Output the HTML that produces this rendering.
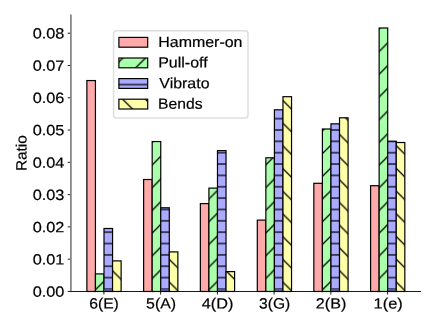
<!DOCTYPE html>
<html><head><meta charset="utf-8"><style>
html,body{margin:0;padding:0;background:#fff;}
svg{display:block;will-change:transform}
text{text-rendering:geometricPrecision;font-family:"Liberation Sans",sans-serif;fill:#000;stroke:#000;stroke-width:0.2px}
</style></head><body>
<svg width="436" height="327" viewBox="0 0 436 327">
<defs>
<pattern id="hp" patternUnits="userSpaceOnUse" width="22.708" height="22.708" x="-0.800" y="0">
<rect width="22.708" height="22.708" fill="#aaffaa"/>
<path d="M-2,2 L2,-2 M-2.000,24.708 L24.708,-2.000 M20.708,24.708 L24.708,20.708" stroke="#000" stroke-width="1.25" fill="none"/>
</pattern>
<pattern id="hv" patternUnits="userSpaceOnUse" width="11.354" height="11.354" x="0" y="-0.577">
<rect width="11.354" height="11.354" fill="#aaaaff"/>
<path d="M-1,5.677 L12.354,5.677" stroke="#000" stroke-width="1.25" fill="none"/>
</pattern>
<pattern id="hb" patternUnits="userSpaceOnUse" width="22.708" height="22.708" x="0" y="-0.758">
<rect width="22.708" height="22.708" fill="#ffffaa"/>
<path d="M-2,-2 L24.708,24.708 M20.708,-2 L24.708,2 M-2,20.708 L2,24.708" stroke="#000" stroke-width="1.25" fill="none"/>
</pattern>
</defs>
<rect width="436" height="327" fill="#fff"/>

<path d="M70.9,14.6 L70.9,291.65" stroke="#808080" stroke-width="1.7" fill="none"/>
<path d="M70.05000000000001,291.47 L421,291.47" stroke="#1a1a1a" stroke-width="1.05" fill="none"/>
<rect x="86.88" y="80.56" width="8.56" height="210.91" fill="#ffaaaa" stroke="#000" stroke-width="1.2"/>
<rect x="95.44" y="273.90" width="8.56" height="17.57" fill="url(#hp)" stroke="#000" stroke-width="1.2"/>
<rect x="104.00" y="228.49" width="8.56" height="62.98" fill="url(#hv)" stroke="#000" stroke-width="1.2"/>
<rect x="104.50" y="288.3" width="7.56" height="2.7" fill="#55558e"/>
<rect x="112.56" y="260.90" width="8.56" height="30.57" fill="url(#hb)" stroke="#000" stroke-width="1.2"/>
<rect x="143.62" y="179.50" width="8.56" height="111.97" fill="#ffaaaa" stroke="#000" stroke-width="1.2"/>
<rect x="152.18" y="141.55" width="8.56" height="149.92" fill="url(#hp)" stroke="#000" stroke-width="1.2"/>
<rect x="160.74" y="207.79" width="8.56" height="83.68" fill="url(#hv)" stroke="#000" stroke-width="1.2"/>
<rect x="161.24" y="288.3" width="7.56" height="2.7" fill="#55558e"/>
<rect x="169.30" y="251.91" width="8.56" height="39.57" fill="url(#hb)" stroke="#000" stroke-width="1.2"/>
<rect x="200.36" y="203.59" width="8.56" height="87.88" fill="#ffaaaa" stroke="#000" stroke-width="1.2"/>
<rect x="208.92" y="188.11" width="8.56" height="103.36" fill="url(#hp)" stroke="#000" stroke-width="1.2"/>
<rect x="217.48" y="150.61" width="8.56" height="140.86" fill="url(#hv)" stroke="#000" stroke-width="1.2"/>
<rect x="217.98" y="288.3" width="7.56" height="2.7" fill="#55558e"/>
<rect x="226.04" y="271.61" width="8.56" height="19.86" fill="url(#hb)" stroke="#000" stroke-width="1.2"/>
<rect x="257.30" y="220.11" width="8.56" height="71.36" fill="#ffaaaa" stroke="#000" stroke-width="1.2"/>
<rect x="265.86" y="157.80" width="8.56" height="133.67" fill="url(#hp)" stroke="#000" stroke-width="1.2"/>
<rect x="274.42" y="109.81" width="8.56" height="181.66" fill="url(#hv)" stroke="#000" stroke-width="1.2"/>
<rect x="274.92" y="288.3" width="7.56" height="2.7" fill="#55558e"/>
<rect x="282.98" y="96.69" width="8.56" height="194.78" fill="url(#hb)" stroke="#000" stroke-width="1.2"/>
<rect x="313.84" y="183.31" width="8.56" height="108.16" fill="#ffaaaa" stroke="#000" stroke-width="1.2"/>
<rect x="322.40" y="129.00" width="8.56" height="162.47" fill="url(#hp)" stroke="#000" stroke-width="1.2"/>
<rect x="330.96" y="123.84" width="8.56" height="167.63" fill="url(#hv)" stroke="#000" stroke-width="1.2"/>
<rect x="331.46" y="288.3" width="7.56" height="2.7" fill="#55558e"/>
<rect x="339.52" y="117.81" width="8.56" height="173.66" fill="url(#hb)" stroke="#000" stroke-width="1.2"/>
<rect x="370.58" y="185.70" width="8.56" height="105.77" fill="#ffaaaa" stroke="#000" stroke-width="1.2"/>
<rect x="379.14" y="27.99" width="8.56" height="263.48" fill="url(#hp)" stroke="#000" stroke-width="1.2"/>
<rect x="387.70" y="141.19" width="8.56" height="150.28" fill="url(#hv)" stroke="#000" stroke-width="1.2"/>
<rect x="388.20" y="288.3" width="7.56" height="2.7" fill="#55558e"/>
<rect x="396.26" y="142.51" width="8.56" height="148.96" fill="url(#hb)" stroke="#000" stroke-width="1.2"/>
<path d="M67.7,291.45 L70.10000000000001,291.45" stroke="#111" stroke-width="0.95"/>
<text x="32.75" y="296.75" transform="rotate(0.03 32.75 296.75)" font-size="14.9" textLength="31.66" lengthAdjust="spacingAndGlyphs">0.00</text>
<path d="M67.7,259.17 L70.10000000000001,259.17" stroke="#111" stroke-width="0.95"/>
<text x="32.75" y="264.47" transform="rotate(0.03 32.75 264.47)" font-size="14.9" textLength="31.66" lengthAdjust="spacingAndGlyphs">0.01</text>
<path d="M67.7,226.89 L70.10000000000001,226.89" stroke="#111" stroke-width="0.95"/>
<text x="32.75" y="232.19" transform="rotate(0.03 32.75 232.19)" font-size="14.9" textLength="31.66" lengthAdjust="spacingAndGlyphs">0.02</text>
<path d="M67.7,194.61 L70.10000000000001,194.61" stroke="#111" stroke-width="0.95"/>
<text x="32.75" y="199.91" transform="rotate(0.03 32.75 199.91)" font-size="14.9" textLength="31.66" lengthAdjust="spacingAndGlyphs">0.03</text>
<path d="M67.7,162.33 L70.10000000000001,162.33" stroke="#111" stroke-width="0.95"/>
<text x="32.75" y="167.63" transform="rotate(0.03 32.75 167.63)" font-size="14.9" textLength="31.66" lengthAdjust="spacingAndGlyphs">0.04</text>
<path d="M67.7,130.05 L70.10000000000001,130.05" stroke="#111" stroke-width="0.95"/>
<text x="32.75" y="135.35" transform="rotate(0.03 32.75 135.35)" font-size="14.9" textLength="31.66" lengthAdjust="spacingAndGlyphs">0.05</text>
<path d="M67.7,97.77 L70.10000000000001,97.77" stroke="#111" stroke-width="0.95"/>
<text x="32.75" y="103.07" transform="rotate(0.03 32.75 103.07)" font-size="14.9" textLength="31.66" lengthAdjust="spacingAndGlyphs">0.06</text>
<path d="M67.7,65.49 L70.10000000000001,65.49" stroke="#111" stroke-width="0.95"/>
<text x="32.75" y="70.79" transform="rotate(0.03 32.75 70.79)" font-size="14.9" textLength="31.66" lengthAdjust="spacingAndGlyphs">0.07</text>
<path d="M67.7,33.21 L70.10000000000001,33.21" stroke="#111" stroke-width="0.95"/>
<text x="32.75" y="38.51" transform="rotate(0.03 32.75 38.51)" font-size="14.9" textLength="31.66" lengthAdjust="spacingAndGlyphs">0.08</text>
<path d="M103.90,291.25 L103.90,294.55" stroke="#111" stroke-width="0.95"/>
<text x="89.17" y="308.5" transform="rotate(0.03 89.17 308.5)" font-size="14.9" textLength="29.71" lengthAdjust="spacingAndGlyphs">6(E)</text>
<path d="M160.64,291.25 L160.64,294.55" stroke="#111" stroke-width="0.95"/>
<text x="146.07" y="308.5" transform="rotate(0.03 146.07 308.5)" font-size="14.9" textLength="29.97" lengthAdjust="spacingAndGlyphs">5(A)</text>
<path d="M217.38,291.25 L217.38,294.55" stroke="#111" stroke-width="0.95"/>
<text x="201.72" y="308.5" transform="rotate(0.03 201.72 308.5)" font-size="14.9" textLength="31.62" lengthAdjust="spacingAndGlyphs">4(D)</text>
<path d="M274.12,291.25 L274.12,294.55" stroke="#111" stroke-width="0.95"/>
<text x="259.08" y="308.5" transform="rotate(0.03 259.08 308.5)" font-size="14.9" textLength="31.16" lengthAdjust="spacingAndGlyphs">3(G)</text>
<path d="M330.86,291.25 L330.86,294.55" stroke="#111" stroke-width="0.95"/>
<text x="315.89" y="308.5" transform="rotate(0.03 315.89 308.5)" font-size="14.9" textLength="30.46" lengthAdjust="spacingAndGlyphs">2(B)</text>
<path d="M387.60,291.25 L387.60,294.55" stroke="#111" stroke-width="0.95"/>
<text x="373.59" y="308.5" transform="rotate(0.03 373.59 308.5)" font-size="14.9" textLength="29.17" lengthAdjust="spacingAndGlyphs">1(e)</text>
<text transform="translate(26.5,169.85) rotate(-89.97)" x="-1.23" y="0" font-size="14.9" textLength="35.92" lengthAdjust="spacingAndGlyphs">Ratio</text>
<rect x="113.6" y="30.8" width="134.4" height="87.2" rx="2.8" ry="2.8" fill="#fff" fill-opacity="0.8" stroke="#dedede" stroke-width="1.5"/>
<rect x="118.9" y="37.40" width="28.8" height="9.8" fill="#ffaaaa" stroke="#000" stroke-width="1.2"/>
<text x="158.22" y="47.00" transform="rotate(0.03 158.22 47.00)" font-size="14.9" textLength="84.28" lengthAdjust="spacingAndGlyphs">Hammer-on</text>
<rect x="118.9" y="58.00" width="28.8" height="9.8" fill="url(#hp)" stroke="#000" stroke-width="1.2"/>
<text x="158.22" y="67.60" transform="rotate(0.03 158.22 67.60)" font-size="14.9" textLength="49.39" lengthAdjust="spacingAndGlyphs">Pull-off</text>
<rect x="118.9" y="78.60" width="28.8" height="9.8" fill="url(#hv)" stroke="#000" stroke-width="1.2"/>
<text x="159.34" y="88.20" transform="rotate(0.03 159.34 88.20)" font-size="14.9" textLength="50.20" lengthAdjust="spacingAndGlyphs">Vibrato</text>
<rect x="118.9" y="99.20" width="28.8" height="9.8" fill="url(#hb)" stroke="#000" stroke-width="1.2"/>
<text x="158.14" y="108.80" transform="rotate(0.03 158.14 108.80)" font-size="14.9" textLength="44.51" lengthAdjust="spacingAndGlyphs">Bends</text>
</svg></body></html>
